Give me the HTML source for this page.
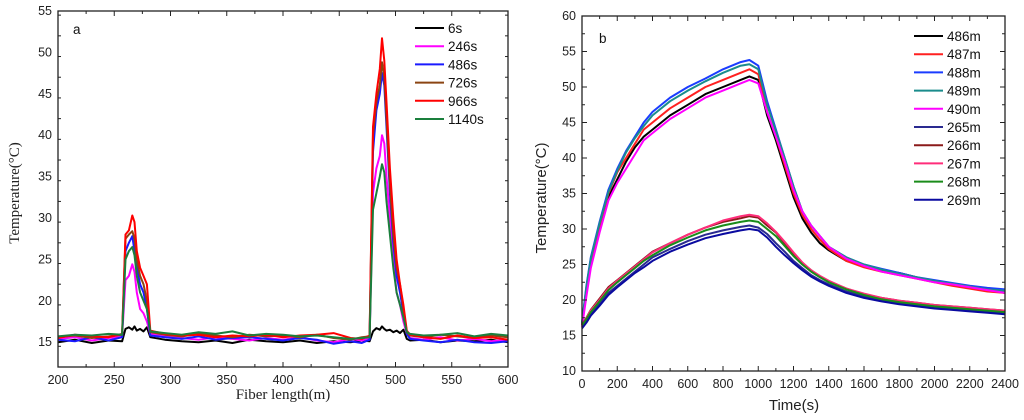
<!DOCTYPE html>
<html><head><meta charset="utf-8"><style>
body{margin:0;background:#fff;width:1024px;height:420px;overflow:hidden}
svg{display:block}
.tk{font-family:"Liberation Sans",Arial,sans-serif;font-size:12.5px;fill:#222}
.lg{font-family:"Liberation Sans",Arial,sans-serif;font-size:13.5px;fill:#111}
</style></head><body>
<svg id="chart" width="1024" height="420" viewBox="0 0 1024 420" xmlns="http://www.w3.org/2000/svg"></svg>
<script>
// ---------- Panel a data ----------
const aFiber = [200,215,230,245,257,260,263,266,268,270,273,276,279,282,295,310,325,340,355,370,385,400,415,430,445,460,470,477,480,483,486,488,490,492,495,498,501,504,507,510,513,525,540,555,570,585,600];
const aLabels = ["6s","246s","486s","726s","966s","1140s"];
const aColors = ["#000000","#ff00ff","#1a1aff","#8b4513","#ff0000","#1a7f3c"];
const a6s   = [15.0,15.3,14.9,15.2,15.1,16.6,16.8,16.5,16.9,16.4,16.6,16.3,16.8,15.6,15.3,15.1,15.0,15.2,14.9,15.3,15.1,15.0,15.2,14.9,15.1,15.0,15.2,15.1,16.3,16.7,16.5,16.9,16.6,16.4,16.5,16.2,16.4,16.1,16.5,15.4,15.2,15.3,15.0,15.2,15.1,15.3,15.0];
const a246s = [15.4,15.6,15.2,15.5,15.7,22.5,23.0,24.4,23.5,21.0,19.0,18.5,17.5,16.0,15.8,15.5,15.3,15.6,15.4,15.2,15.5,15.3,15.6,15.2,15.0,15.4,15.2,15.5,33.0,36.0,37.5,40.0,39.0,35.0,30.0,25.0,21.0,19.5,17.5,16.0,15.5,15.3,15.6,15.2,15.4,15.1,15.3];
const a486s = [15.3,15.1,15.6,15.2,15.6,26.0,27.0,27.8,26.0,24.0,22.0,21.0,19.0,15.8,15.6,15.4,15.7,15.3,15.5,15.6,15.4,15.2,15.5,15.3,14.8,15.1,14.9,15.3,38.0,43.0,45.0,47.5,46.0,41.0,33.0,27.0,23.0,21.0,18.5,16.0,15.4,15.2,15.0,15.3,15.0,14.9,15.1];
const a726s = [15.6,15.8,15.5,15.7,15.9,27.5,28.0,28.4,27.5,25.0,23.0,22.0,20.0,16.2,15.9,15.7,16.0,15.8,15.6,15.9,15.7,15.8,15.6,15.9,15.5,15.3,15.6,15.7,40.0,44.0,46.0,48.8,47.0,42.0,34.0,28.0,24.0,22.0,19.0,16.2,15.8,15.6,15.9,15.7,15.5,15.8,15.6];
const a966s = [15.5,15.9,15.7,15.6,16.0,28.0,28.5,30.3,29.5,26.0,24.0,23.0,22.0,16.4,16.0,15.8,15.9,15.6,15.8,15.7,15.9,15.6,15.8,15.9,16.1,15.5,15.4,15.8,41.0,45.0,48.0,51.7,49.0,44.0,36.0,30.0,25.0,22.0,19.5,16.4,15.9,15.6,15.4,15.8,15.5,15.6,15.3];
const a1140s= [15.7,15.9,15.8,16.0,15.9,25.0,26.0,26.5,25.5,23.0,21.0,20.0,19.0,16.3,16.1,15.9,16.2,16.0,16.3,15.8,16.0,15.9,15.7,15.8,15.6,15.4,15.5,15.6,31.0,33.0,35.0,36.5,35.5,32.0,28.0,24.0,21.0,19.5,18.0,16.2,16.0,15.8,15.9,16.1,15.7,16.0,15.8];
const aSeries = [a6s,a246s,a486s,a726s,a966s,a1140s];
const aXTicks = [200,250,300,350,400,450,500,550,600];
const aYTicks = [15,20,25,30,35,40,45,50,55];

// ---------- Panel b data ----------
const bTime = [0,25,50,100,150,200,250,300,350,400,500,600,700,800,900,950,1000,1050,1100,1150,1200,1250,1300,1350,1400,1500,1600,1700,1800,1900,2000,2100,2200,2300,2400];
const bLabels = ["486m","487m","488m","489m","490m","265m","266m","267m","268m","269m"];
const bColors = ["#000000","#ff2020","#1a3cff","#1a8c8c","#ff00ff","#2a2a90","#8b1a1a","#ff2d7a","#1a8c1a","#0a0aa0"];
const b486 = [16.5,21.0,25.0,30.0,34.5,37.0,39.5,41.5,43.0,44.0,46.0,47.5,49.0,50.0,51.0,51.5,51.0,46.0,42.5,38.5,34.5,31.5,29.5,28.0,27.0,25.5,24.8,24.2,23.8,23.2,22.6,22.2,21.8,21.4,21.0];
const b487 = [16.5,21.5,25.5,30.5,35.0,38.0,40.0,42.0,44.0,45.0,47.0,48.5,50.0,51.0,52.0,52.5,51.8,46.5,43.0,39.0,35.0,32.0,30.0,28.5,27.2,25.5,24.6,24.0,23.5,23.0,22.5,22.0,21.6,21.2,21.0];
const b488 = [16.8,22.0,26.0,31.0,35.5,38.5,41.0,43.0,45.0,46.5,48.5,50.0,51.2,52.5,53.5,53.8,53.0,48.0,44.0,40.0,36.0,32.5,30.5,29.0,27.5,26.0,25.0,24.4,23.8,23.2,22.8,22.4,22.0,21.7,21.5];
const b489 = [16.7,21.8,25.8,30.8,35.2,38.2,40.8,42.8,44.5,46.0,48.0,49.5,50.8,52.0,53.0,53.2,52.5,47.5,43.8,40.0,36.0,32.5,30.5,29.0,27.5,26.0,25.0,24.3,23.7,23.2,22.7,22.3,21.9,21.5,21.3];
const b490 = [16.2,20.5,24.5,29.5,34.0,36.5,38.5,40.5,42.5,43.5,45.5,47.0,48.5,49.5,50.5,51.0,50.5,46.5,43.0,39.5,35.5,32.5,30.5,29.0,27.5,25.8,24.8,24.0,23.5,23.0,22.5,22.2,21.8,21.4,21.0];
const b265 = [16.3,17.0,18.0,19.5,21.0,22.0,23.0,24.0,25.0,26.0,27.2,28.3,29.2,29.8,30.3,30.5,30.2,29.3,28.0,26.8,25.5,24.5,23.5,22.8,22.2,21.2,20.5,19.9,19.5,19.2,19.0,18.8,18.6,18.4,18.2];
const b266 = [16.5,17.5,18.6,20.2,21.8,22.8,23.8,24.8,25.8,26.8,28.0,29.2,30.2,31.0,31.5,31.8,31.6,30.5,29.5,28.0,26.5,25.2,24.2,23.3,22.6,21.6,20.8,20.3,19.9,19.6,19.3,19.1,18.9,18.7,18.5];
const b267 = [16.4,17.4,18.5,20.0,21.6,22.7,23.7,24.7,25.7,26.7,28.0,29.2,30.2,31.2,31.8,32.0,31.8,30.8,29.6,28.2,26.7,25.3,24.2,23.4,22.7,21.6,20.9,20.3,19.9,19.6,19.3,19.1,18.9,18.7,18.5];
const b268 = [16.4,17.3,18.3,19.8,21.4,22.5,23.5,24.5,25.5,26.3,27.7,28.8,29.8,30.5,31.0,31.2,31.0,30.0,29.0,27.6,26.2,25.0,24.0,23.2,22.5,21.5,20.7,20.1,19.7,19.4,19.1,18.9,18.7,18.5,18.3];
const b269 = [16.0,16.8,17.8,19.2,20.7,21.8,22.8,23.8,24.6,25.5,26.8,27.8,28.7,29.3,29.8,30.0,29.8,28.8,27.5,26.3,25.2,24.2,23.3,22.6,22.0,21.0,20.3,19.8,19.4,19.1,18.8,18.6,18.4,18.2,18.0];
const bSeries = [b486,b487,b488,b489,b490,b265,b266,b267,b268,b269];
const bXTicks = [0,200,400,600,800,1000,1200,1400,1600,1800,2000,2200,2400];
const bYTicks = [10,15,20,25,30,35,40,45,50,55,60];

const NS="http://www.w3.org/2000/svg";
const svg=document.getElementById('chart');
function mk(tag,attrs,parent){const e=document.createElementNS(NS,tag);for(const k in attrs)e.setAttribute(k,attrs[k]);(parent||svg).appendChild(e);return e;}
function txt(s,x,y,cls,anchor,parent){const t=mk('text',{x:x,y:y,class:cls,'text-anchor':anchor||'middle'},parent);t.textContent=s;return t;}

function panel(cfg){
  const g=mk('g',{});
  
  
  const sx=v=>cfg.x0+(v-cfg.xmin)/(cfg.xmax-cfg.xmin)*(cfg.x1-cfg.x0);
  const sy=v=>cfg.y1-(v-cfg.ymin)/(cfg.ymax-cfg.ymin)*(cfg.y1-cfg.y0);
  // series
  const sg=mk('g',{},g);
  
  
  cfg.series.forEach((arr,i)=>{
    const d=arr.map((v,j)=>(j?'L':'M')+sx(cfg.xs[j]).toFixed(1)+' '+sy(v).toFixed(1)).join(' ');
    const p=mk('path',{d:d,fill:'none',stroke:cfg.colors[i],'stroke-width':2,'stroke-linejoin':'round'},sg);
    
    
  });
  // frame
  const fr=mk('rect',{x:cfg.x0,y:cfg.y0,width:cfg.x1-cfg.x0,height:cfg.y1-cfg.y0,fill:'none',stroke:'#222','stroke-width':1.3},g);
  
  
  // ticks
  const tg=mk('g',{stroke:'#222','stroke-width':1},g);
  const xt=cfg.xTicks, yt=cfg.yTicks;
  const xs2=(xt[1]-xt[0])/2, ys2=(yt[1]-yt[0])/2;
  for(let v=cfg.xmin;v<=cfg.xmax+1e-6;v+=xs2){
    const major=xt.some(t=>Math.abs(t-v)<1e-6);const L=major?5:3;const X=sx(v);
    mk('line',{x1:X,x2:X,y1:cfg.y1,y2:cfg.y1-L},tg);mk('line',{x1:X,x2:X,y1:cfg.y0,y2:cfg.y0+L},tg);
  }
  for(let v=cfg.ymin;v<=cfg.ymax+1e-6;v+=ys2){
    const major=yt.some(t=>Math.abs(t-v)<1e-6);const L=major?5:3;const Y=sy(v);
    mk('line',{x1:cfg.x0,x2:cfg.x0+L,y1:Y,y2:Y},tg);mk('line',{x1:cfg.x1,x2:cfg.x1-L,y1:Y,y2:Y},tg);
  }
  xt.forEach(v=>{const t=txt(String(v),sx(v),cfg.y1+17,'tk','middle',g);});
  yt.forEach(v=>{const t=txt(String(v),cfg.x0-6,sy(v)+4,'tk','end',g);});
  // legend
  const lg=mk('g',{},g);
  
  
  cfg.labels.forEach((l,i)=>{
    const y=cfg.legY+i*cfg.legDy;
    const e=mk('g',{},lg);
    
    
    mk('line',{x1:cfg.legX,x2:cfg.legX+29,y1:y,y2:y,stroke:cfg.colors[i],'stroke-width':2},e);
    txt(l,cfg.legX+33,y+5,'lg','start',e);
  });
  const pl=txt(cfg.tag,cfg.tagX,cfg.tagY,'lg','start',g);
  
  
  return g;
}

panel({name:'panel-a',x0:58,x1:508,y0:11,y1:367,xmin:200,xmax:600,ymin:12,ymax:55,
  xs:aFiber,series:aSeries,labels:aLabels,colors:aColors,xTicks:aXTicks,yTicks:aYTicks,
  legX:415,legY:28,legDy:18.2,tag:'a',tagX:73,tagY:34});
panel({name:'panel-b',x0:582,x1:1005,y0:16,y1:371,xmin:0,xmax:2400,ymin:10,ymax:60,
  xs:bTime,series:bSeries,labels:bLabels,colors:bColors,xTicks:bXTicks,yTicks:bYTicks,
  legX:914,legY:36,legDy:18.2,tag:'b',tagX:599,tagY:43});

// axis titles
let t;
t=txt('Fiber length(m)',283,399,'','middle');
t.setAttribute('style','font-family:"Liberation Serif",serif;font-size:15px;fill:#222');

t=txt('Temperature(°C)',0,0,'','middle');
t.setAttribute('transform','translate(19,193) rotate(-90)');
t.setAttribute('style','font-family:"Liberation Serif",serif;font-size:15px;fill:#222');

t=txt('Time(s)',794,410,'','middle');
t.setAttribute('style','font-family:"Liberation Sans",sans-serif;font-size:15px;fill:#222');

t=txt('Temperature(°C)',0,0,'','middle');
t.setAttribute('transform','translate(546,198) rotate(-90)');
t.setAttribute('style','font-family:"Liberation Sans",sans-serif;font-size:15px;fill:#222');

</script>
</body></html>
